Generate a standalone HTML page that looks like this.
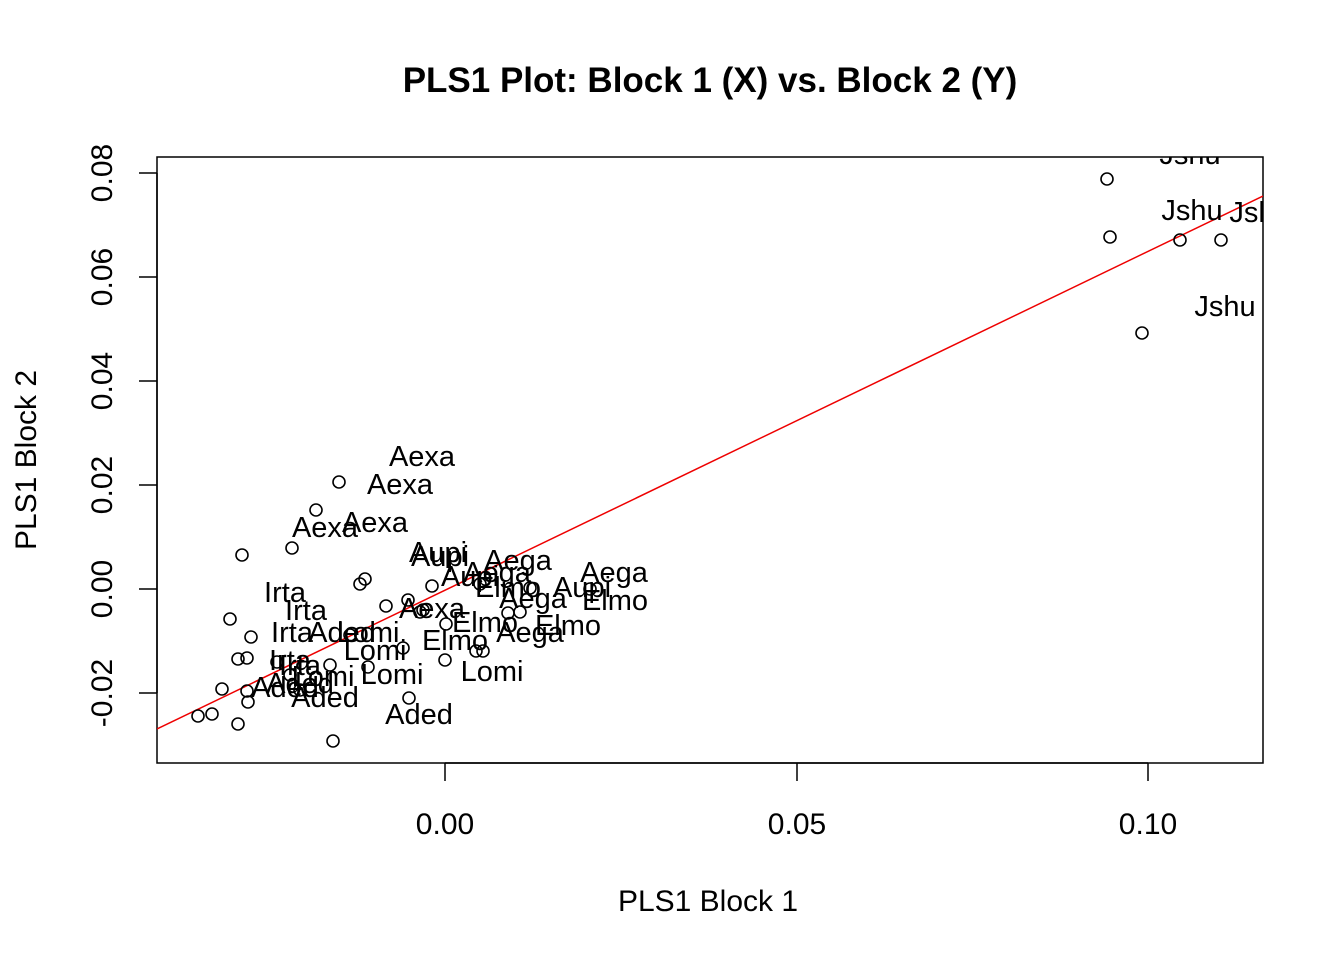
<!DOCTYPE html>
<html><head><style>body{margin:0;background:#fff}svg{display:block}text{font-family:"Liberation Sans",Arial,sans-serif}</style></head>
<body>
<svg width="1344" height="960" viewBox="0 0 1344 960" xmlns="http://www.w3.org/2000/svg">
<defs><clipPath id="c"><rect x="157" y="157" width="1106" height="606"/></clipPath></defs>
<text x="710" y="92" font-size="35" font-weight="bold" text-anchor="middle">PLS1 Plot: Block 1 (X) vs. Block 2 (Y)</text>
<rect x="157" y="157" width="1106" height="606" fill="none" stroke="#000" stroke-width="1.5"/>
<g stroke="#000" stroke-width="1.5">
<line x1="445" y1="763" x2="1148" y2="763"/>
<line x1="445" y1="763" x2="445" y2="781"/><line x1="797" y1="763" x2="797" y2="781"/><line x1="1148" y1="763" x2="1148" y2="781"/>
<line x1="157" y1="173" x2="157" y2="693"/>
<line x1="139" y1="173" x2="157" y2="173"/><line x1="139" y1="277" x2="157" y2="277"/><line x1="139" y1="381" x2="157" y2="381"/><line x1="139" y1="485" x2="157" y2="485"/><line x1="139" y1="589" x2="157" y2="589"/><line x1="139" y1="693" x2="157" y2="693"/>
</g>
<g font-size="30" text-anchor="middle">
<text x="445" y="834">0.00</text><text x="797" y="834">0.05</text><text x="1148" y="834">0.10</text>
<text x="708" y="911">PLS1 Block 1</text>
</g>
<g font-size="30" text-anchor="middle">
<text transform="translate(112,173) rotate(-90)">0.08</text>
<text transform="translate(112,277) rotate(-90)">0.06</text>
<text transform="translate(112,381) rotate(-90)">0.04</text>
<text transform="translate(112,485) rotate(-90)">0.02</text>
<text transform="translate(112,589) rotate(-90)">0.00</text>
<text transform="translate(112,693) rotate(-90)">-0.02</text>
<text transform="translate(36,460) rotate(-90)">PLS1 Block 2</text>
</g>
<g clip-path="url(#c)">
<line x1="157" y1="729" x2="1263" y2="196" stroke="#e00" stroke-width="1.5"/>
<g fill="none" stroke="#000" stroke-width="1.6">
<circle cx="1107" cy="179" r="6"/><circle cx="1110" cy="237" r="6"/><circle cx="1180" cy="240" r="6"/><circle cx="1221" cy="240" r="6"/><circle cx="1142" cy="333" r="6"/>
<circle cx="339" cy="482" r="6"/><circle cx="316" cy="510" r="6"/><circle cx="292" cy="548" r="6"/><circle cx="242" cy="555" r="6"/><circle cx="365" cy="579" r="6"/><circle cx="360" cy="584" r="6"/><circle cx="386" cy="606" r="6"/><circle cx="408" cy="600" r="6"/><circle cx="432" cy="586" r="6"/><circle cx="230" cy="619" r="6"/><circle cx="251" cy="637" r="6"/><circle cx="238" cy="659" r="6"/><circle cx="247" cy="658" r="6"/><circle cx="277" cy="662" r="6"/><circle cx="290" cy="675" r="6"/><circle cx="222" cy="689" r="6"/><circle cx="247" cy="691" r="6"/><circle cx="248" cy="702" r="6"/><circle cx="198" cy="716" r="6"/><circle cx="212" cy="714" r="6"/><circle cx="238" cy="724" r="6"/><circle cx="333" cy="741" r="6"/><circle cx="409" cy="698" r="6"/><circle cx="403" cy="648" r="6"/><circle cx="368" cy="667" r="6"/><circle cx="350" cy="635" r="6"/><circle cx="446" cy="624" r="6"/><circle cx="445" cy="660" r="6"/><circle cx="476" cy="651" r="6"/><circle cx="483" cy="651" r="6"/><circle cx="508" cy="613" r="6"/><circle cx="423" cy="610" r="6"/><circle cx="420" cy="612" r="6"/><circle cx="480" cy="584" r="6"/><circle cx="530" cy="588" r="6"/><circle cx="590" cy="589" r="6"/><circle cx="520" cy="612" r="6"/><circle cx="330" cy="665" r="6"/><circle cx="300" cy="690" r="6"/>
</g>
<g font-size="29" text-anchor="middle">
<text x="1190" y="164">Jshu</text><text x="1192" y="220">Jshu</text><text x="1260" y="222">Jshu</text><text x="1225" y="316">Jshu</text>
<text x="422" y="466">Aexa</text><text x="400" y="494">Aexa</text><text x="325" y="537">Aexa</text><text x="375" y="532">Aexa</text>
<text x="438" y="562">Aupi</text><text x="440" y="566">Aupi</text><text x="518" y="570">Aega</text><text x="470" y="586">Aupi</text><text x="497" y="582">Aega</text><text x="614" y="582">Aega</text>
<text x="508" y="597">Elmo</text><text x="582" y="597">Aupi</text><text x="533" y="608">Aega</text><text x="615" y="610">Elmo</text><text x="432" y="618">Aexa</text>
<text x="485" y="632">Elmo</text><text x="568" y="635">Elmo</text><text x="530" y="642">Aega</text><text x="455" y="650">Elmo</text>
<text x="285" y="602">Irta</text><text x="306" y="620">Irta</text><text x="292" y="642">Irta</text><text x="342" y="642">Aded</text><text x="368" y="642">Lomi</text><text x="375" y="660">Lomi</text>
<text x="290" y="670">Irta</text><text x="300" y="675">Irta</text><text x="323" y="686">Lomi</text><text x="392" y="684">Lomi</text>
<text x="285" y="697">Aded</text><text x="300" y="693">Aded</text><text x="325" y="707">Aded</text><text x="492" y="681">Lomi</text><text x="419" y="724">Aded</text>
</g>
</g>
</svg>
</body></html>
